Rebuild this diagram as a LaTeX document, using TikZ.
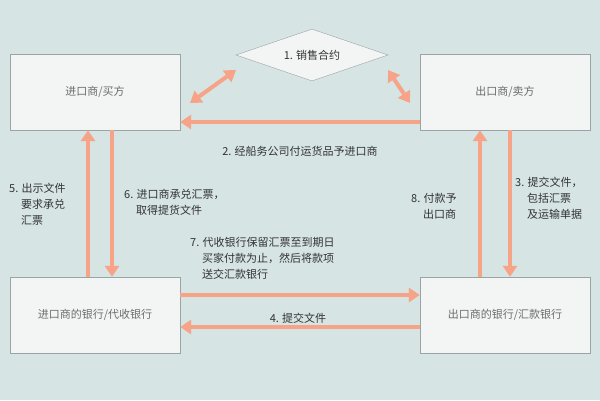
\documentclass[tikz,border=0pt]{standalone}
\usepackage{fontspec}
\setmainfont{Noto Sans CJK SC}
\usetikzlibrary{shapes.geometric,arrows.meta}
\definecolor{bgcol}{HTML}{D6E4E4}
\definecolor{boxcol}{HTML}{F3F5F5}
\definecolor{linecol}{HTML}{9AA4A4}
\definecolor{arrcol}{HTML}{F6A387}
\definecolor{txtcol}{HTML}{333333}
\tikzset{
  party/.style={draw=linecol, fill=boxcol, minimum width=170pt, minimum height=76pt, text=gray!85!black, font=\fontsize{11}{13}\selectfont},
  flow/.style={draw=arrcol, line width=4pt, -{Triangle[length=11pt,width=14pt]}},
  both/.style={flow, {Triangle[length=11pt,width=14pt]}-{Triangle[length=11pt,width=14pt]}},
  lbl/.style={text=txtcol, font=\fontsize{11}{16}\selectfont, align=left, inner sep=0pt}
}
\begin{document}
\begin{tikzpicture}[x=1pt,y=-1pt]
  \useasboundingbox[fill=bgcol] (0,0) rectangle (600,400);

  % parties
  \node[party] (buyer) at (95,92) {进口商/买方};
  \node[party] (seller) at (505,92) {出口商/卖方};
  \node[party] (bbank) at (95,315) {进口商的银行/代收银行};
  \node[party] (sbank) at (505,315) {出口商的银行/汇款银行};
  \node[diamond, draw=linecol, fill=boxcol, aspect=3, minimum width=152pt, minimum height=52pt, inner sep=0pt, text=txtcol, font=\fontsize{11}{13}\selectfont] (deal) at (312,55) {1. 销售合约};

  % contract
  \coordinate (b1) at (190,103);
  \coordinate (d1) at (236,70);
  \coordinate (d2) at (388,70);
  \coordinate (s1) at (410,103);
  \draw[both] (b1) -- (d1);
  \draw[both] (d2) -- (s1);

  % goods
  \draw[flow] (seller.west |- 0,122) -- (buyer.east |- 0,122);
  \node[lbl] at (300,151) {2. 经船务公司付运货品予进口商};

  % left pair
  \draw[flow] (bbank.north -| 88,0) -- (buyer.south -| 88,0);
  \draw[flow] (buyer.south -| 112,0) -- (bbank.north -| 112,0);
  \node[lbl, anchor=north west] at (9,183) {5. 出示文件\\\hspace{12pt}要求承兑\\\hspace{12pt}汇票};
  \node[lbl, anchor=north west] at (124,189) {6. 进口商承兑汇票，\\\hspace{12pt}取得提货文件};

  % right pair
  \draw[flow] (sbank.north -| 480,0) -- (seller.south -| 480,0);
  \draw[flow] (seller.south -| 510,0) -- (sbank.north -| 510,0);
  \node[lbl, anchor=north west] at (411,193) {8. 付款予\\\hspace{12pt}出口商};
  \node[lbl, anchor=north west] at (515,177) {3. 提交文件，\\\hspace{12pt}包括汇票\\\hspace{12pt}及运输单据};

  % banks
  \draw[flow] (bbank.east |- 0,295) -- (sbank.west |- 0,295);
  \node[lbl, anchor=north west] at (190,237) {7. 代收银行保留汇票至到期日\\\hspace{12pt}买家付款为止，然后将款项\\\hspace{12pt}送交汇款银行};
  \draw[flow] (sbank.west |- 0,327) -- (bbank.east |- 0,327);
  \node[lbl] at (298,318) {4. 提交文件};
\end{tikzpicture}
\end{document}
